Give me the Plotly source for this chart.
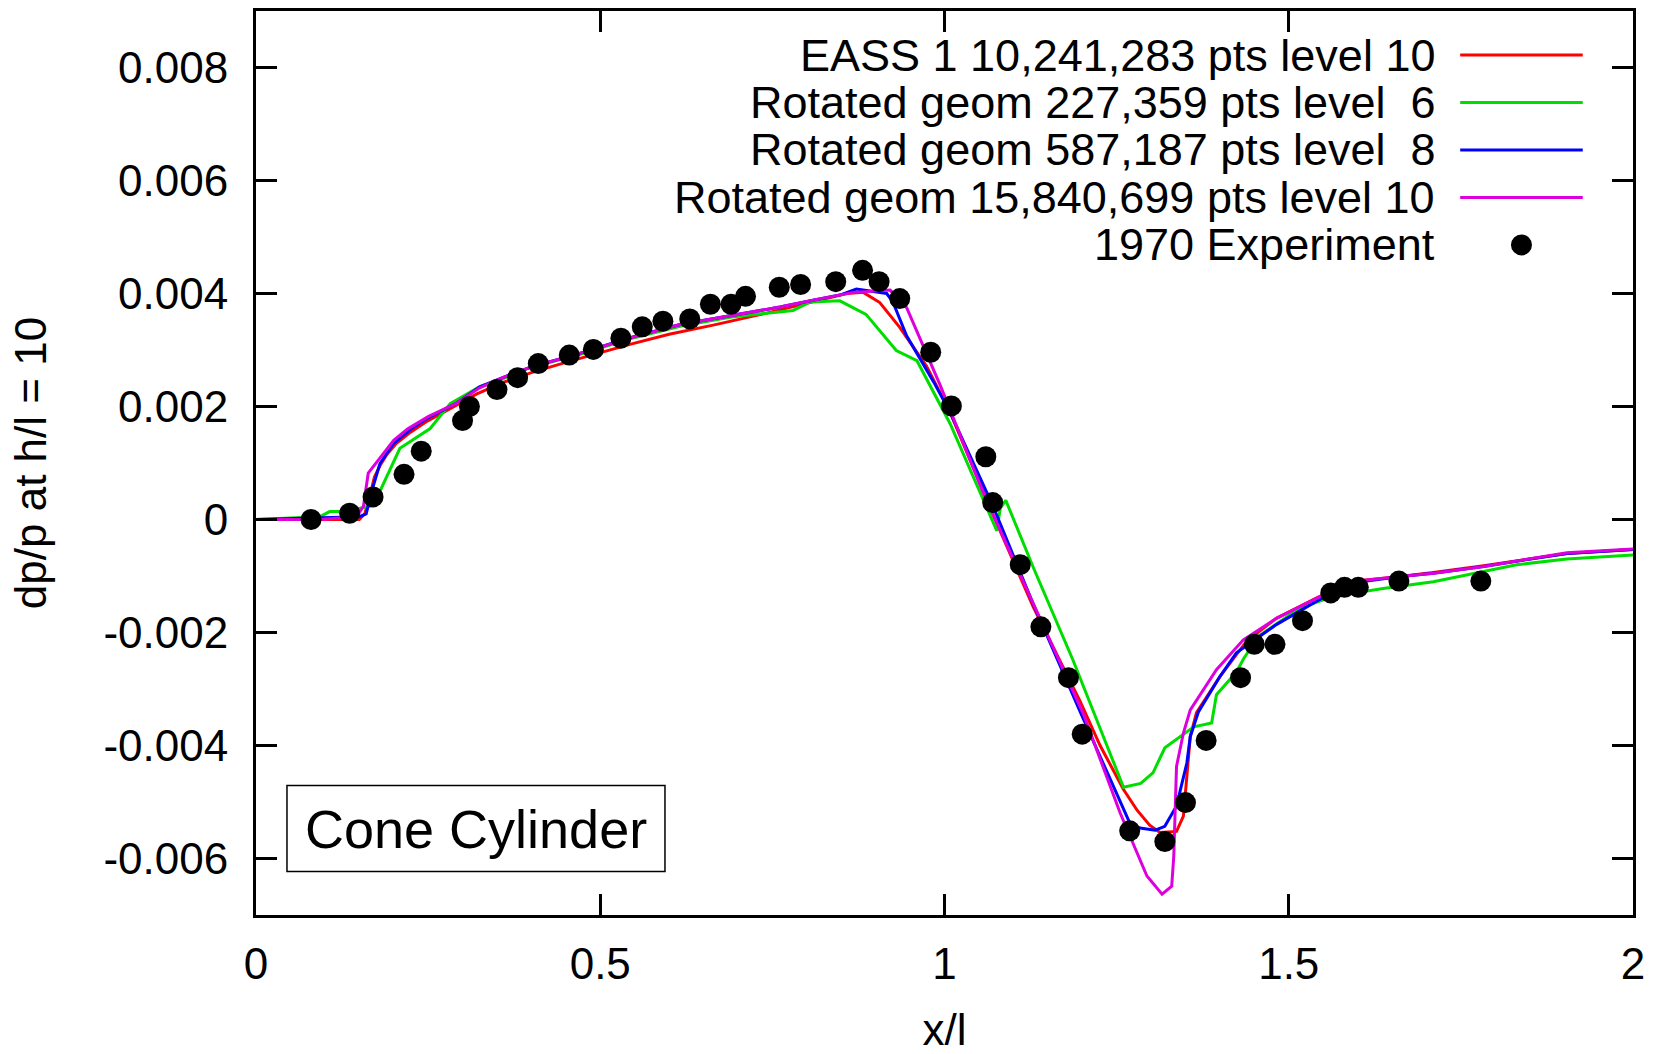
import plotly.graph_objects as go

# ---------------- data ----------------
eass_x = [0.0, 0.15, 0.158, 0.165, 0.172, 0.18, 0.19, 0.204, 0.225, 0.25, 0.28, 0.32, 0.36, 0.40,
          0.45, 0.50, 0.543, 0.60, 0.664, 0.737, 0.80, 0.858, 0.882, 0.906, 0.935, 0.974, 1.008,
          1.071, 1.129, 1.197, 1.226, 1.26, 1.28, 1.298, 1.313, 1.337, 1.347, 1.352, 1.357, 1.366,
          1.40, 1.439, 1.482, 1.54, 1.589, 1.662, 1.71, 1.783, 1.855, 1.904, 2.0]
eass_y = [0.0, 0.0, 0.0001, 0.0004, 0.00075, 0.00095, 0.00115, 0.00135, 0.00155, 0.00175, 0.00195,
          0.00222, 0.00243, 0.0026, 0.00278, 0.00295, 0.0031, 0.00328, 0.00344, 0.00364, 0.00383,
          0.004, 0.00402, 0.00384, 0.0034, 0.00271, 0.0019, 0.00007, -0.00155, -0.00322, -0.004,
          -0.00478, -0.00515, -0.00541, -0.00554, -0.00552, -0.00525, -0.0046, -0.00384, -0.00342,
          -0.00278, -0.00215, -0.00175, -0.00139, -0.0011, -0.00101, -0.00094, -0.00082, -0.00069,
          -0.0006, -0.00053]

l6_x = [0.0, 0.093, 0.107, 0.122, 0.151, 0.17, 0.18, 0.209, 0.253, 0.282, 0.325, 0.36, 0.40, 0.47,
        0.543, 0.616, 0.688, 0.751, 0.78, 0.805, 0.848, 0.886, 0.93, 0.96, 0.994, 1.008, 1.076,
        1.081, 1.089, 1.129, 1.187, 1.26, 1.285, 1.303, 1.32, 1.342, 1.362, 1.388, 1.395, 1.424,
        1.435, 1.458, 1.516, 1.565, 1.637, 1.71, 1.783, 1.831, 1.904, 2.0]
l6_y = [0.0, 0.00005, 0.00014, 0.00014, 0.0002, 0.00025, 0.0005, 0.00126, 0.00161, 0.00205,
        0.00235, 0.0025, 0.0027, 0.00292, 0.0032, 0.00342, 0.00358, 0.00367, 0.0037, 0.00385,
        0.00387, 0.00363, 0.00299, 0.00281, 0.00203, 0.0017, -0.0002, 0.0002, 0.00034, -0.00085,
        -0.0025, -0.00474, -0.00467, -0.00448, -0.00404, -0.00384, -0.00367, -0.0036, -0.0031,
        -0.0027, -0.00245, -0.00205, -0.00157, -0.00136, -0.00122, -0.0011, -0.00092, -0.0008,
        -0.0007, -0.00063]

l8_x = [0.0, 0.15, 0.16, 0.17, 0.18, 0.20, 0.225, 0.25, 0.29, 0.325, 0.36, 0.40, 0.47, 0.543,
        0.616, 0.688, 0.761, 0.809, 0.85, 0.872, 0.916, 0.925, 0.945, 0.984, 1.008, 1.07, 1.129,
        1.197, 1.269, 1.284, 1.306, 1.32, 1.337, 1.352, 1.357, 1.369, 1.40, 1.424, 1.482, 1.54,
        1.589, 1.662, 1.71, 1.783, 1.855, 1.904, 2.0]
l8_y = [0.0, 0.00005, 0.0001, 0.00058, 0.00099, 0.00135, 0.0016, 0.0018, 0.00205, 0.00235, 0.00252,
        0.0027, 0.00294, 0.00322, 0.00345, 0.0036, 0.00376, 0.00388, 0.00398, 0.00408, 0.004,
        0.00385, 0.00325, 0.00244, 0.0019, 0.00025, -0.0015, -0.0034, -0.00537, -0.00546,
        -0.0055, -0.00543, -0.00507, -0.00431, -0.00384, -0.0034, -0.00278, -0.00236, -0.00186,
        -0.00145, -0.00113, -0.00101, -0.00095, -0.00083, -0.0007, -0.0006, -0.00053]

l10_x = [0.0, 0.093, 0.146, 0.156, 0.163, 0.17, 0.18, 0.20, 0.22, 0.25, 0.29, 0.325, 0.36, 0.40,
         0.47, 0.543, 0.616, 0.688, 0.761, 0.809, 0.868, 0.921, 0.945, 0.994, 1.056, 1.129, 1.202,
         1.255, 1.294, 1.316, 1.33, 1.333, 1.337, 1.347, 1.357, 1.395, 1.434, 1.482, 1.54, 1.589,
         1.662, 1.71, 1.783, 1.855, 1.904, 2.0]
l10_y = [0.0, 0.0, 0.00005, 0.00023, 0.00082, 0.00093, 0.0011, 0.0014, 0.0016, 0.00182, 0.00205,
         0.00233, 0.00252, 0.0027, 0.00294, 0.00321, 0.00345, 0.0036, 0.00376, 0.00388, 0.00402,
         0.00406, 0.00375, 0.00237, 0.00048, -0.00149, -0.00345, -0.00519, -0.00631, -0.00663,
         -0.00649, -0.00596, -0.00437, -0.00378, -0.00337, -0.00266, -0.00213, -0.00175,
         -0.00139, -0.0011, -0.00101, -0.00095, -0.00083, -0.00068, -0.00059, -0.00052]

exp_x = [0.08, 0.136, 0.17, 0.215, 0.24, 0.30, 0.31, 0.35, 0.38, 0.41, 0.455, 0.49, 0.53, 0.561,
         0.591, 0.63, 0.66, 0.69, 0.711, 0.76, 0.791, 0.842, 0.881, 0.905, 0.935, 0.98, 1.01, 1.06,
         1.07, 1.11, 1.14, 1.18, 1.20, 1.269, 1.32, 1.35, 1.38, 1.43, 1.45, 1.48, 1.52, 1.561,
         1.581, 1.601, 1.66, 1.779]
exp_y = [0.0, 0.00011, 0.0004, 0.0008, 0.00121, 0.00175, 0.002, 0.0023, 0.00251, 0.00276, 0.00291,
         0.00301, 0.00321, 0.00341, 0.00351, 0.00355, 0.00381, 0.00381, 0.00395, 0.00411, 0.00416,
         0.00421, 0.00441, 0.00421, 0.00391, 0.00296, 0.00201, 0.00111, 0.0003, -0.0008, -0.0019,
         -0.0028, -0.0038, -0.00551, -0.0057, -0.00501, -0.00391, -0.0028, -0.00221, -0.00221,
         -0.00179, -0.0013, -0.0012, -0.0012, -0.00109, -0.00109]

names = ["EASS 1 10,241,283 pts level 10",
         "Rotated geom 227,359 pts level  6",
         "Rotated geom 587,187 pts level  8",
         "Rotated geom 15,840,699 pts level 10",
         "1970 Experiment"]
colors = ["#ff0000", "#00dd00", "#0000ff", "#dd00dd"]

x_ticks = [0, 0.5, 1, 1.5, 2]
y_ticks = [-0.006, -0.004, -0.002, 0, 0.002, 0.004, 0.006, 0.008]
y_tick_text = ["-0.006", "-0.004", "-0.002", "0", "0.002", "0.004", "0.006", "0.008"]

FONT = "Liberation Sans, Arial, sans-serif"

fig = go.Figure()
series = [(eass_x, eass_y), (l6_x, l6_y), (l8_x, l8_y), (l10_x, l10_y)]
for (xs, ys), nm, c in zip(series, names[:4], colors):
    fig.add_trace(go.Scatter(x=xs, y=ys, mode="lines", name=nm,
                             line=dict(color=c, width=3), showlegend=False))
fig.add_trace(go.Scatter(x=exp_x, y=exp_y, mode="markers", name=names[4],
                         marker=dict(color="black", size=21), showlegend=False))

# manual gnuplot-style legend (text right-aligned, sample on the right)
leg_rows = [0.00822, 0.00738, 0.00654, 0.0057, 0.00486]
annotations = []
shapes = []
for i, (nm, yy) in enumerate(zip(names, leg_rows)):
    annotations.append(dict(x=1.716, y=yy, xref="x", yref="y", text=nm, showarrow=False,
                            xanchor="right", yanchor="middle",
                            font=dict(family=FONT, size=45, color="black")))
    if i < 4:
        shapes.append(dict(type="line", xref="x", yref="y", x0=1.749, x1=1.927, y0=yy, y1=yy,
                           line=dict(color=colors[i], width=3)))
    else:
        shapes.append(dict(type="circle", xref="x", yref="y", xsizemode="pixel",
                           ysizemode="pixel", xanchor=1.838, yanchor=yy,
                           x0=-10.5, x1=10.5, y0=-10.5, y1=10.5,
                           fillcolor="black", line=dict(color="black", width=0)))

# "Cone Cylinder" label box
shapes.append(dict(type="rect", xref="x", yref="y", x0=0.045, x1=0.594, y0=-0.00623, y1=-0.00471,
                   line=dict(color="black", width=1.5), fillcolor="rgba(0,0,0,0)"))
annotations.append(dict(x=0.3195, y=-0.00547, xref="x", yref="y", text="Cone Cylinder",
                        showarrow=False, xanchor="center", yanchor="middle",
                        font=dict(family=FONT, size=54, color="black")))

axis_common = dict(showline=True, linecolor="black", linewidth=3, mirror="ticks",
                   ticks="inside", ticklen=21, tickwidth=3, tickcolor="black",
                   showgrid=False, zeroline=False,
                   tickfont=dict(family=FONT, size=44, color="black"))

fig.update_layout(
    width=1659, height=1054,
    margin=dict(l=256, r=26, t=11, b=139, autoexpand=False),
    paper_bgcolor="white", plot_bgcolor="white",
    font=dict(family=FONT, size=44, color="black"),
    showlegend=False,
    annotations=annotations, shapes=shapes,
    xaxis=dict(range=[0, 2], tickvals=x_ticks, ticktext=["0", "0.5", "1", "1.5", "2"],
               ticklabelstandoff=8,
               title=dict(text="x/l", font=dict(family=FONT, size=44), standoff=39),
               **axis_common),
    yaxis=dict(range=[-0.007, 0.009], tickvals=y_ticks, ticktext=y_tick_text,
               ticklabelstandoff=16,
               title=dict(text="dp/p at h/l = 10", font=dict(family=FONT, size=44), standoff=44),
               **axis_common),
)

fig.write_html("out.html")
